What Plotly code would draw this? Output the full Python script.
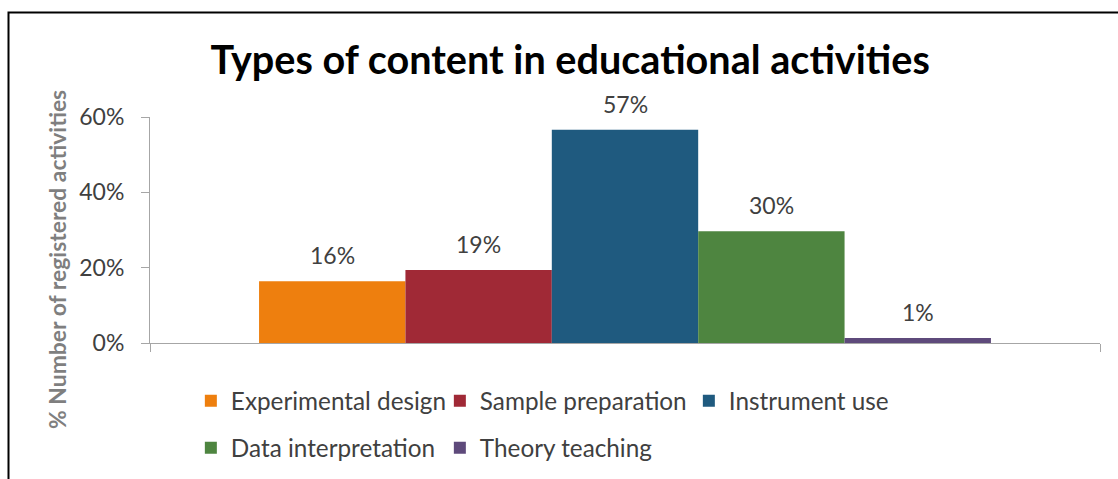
import plotly.graph_objects as go

categories = ["Experimental design", "Sample preparation", "Instrument use",
              "Data interpretation", "Theory teaching"]
values = [0.164, 0.194, 0.566, 0.297, 0.013]
colors = ["#EE7F0E", "#A02936", "#1F5A7F", "#4E8540", "#5E4A7B"]
y_ticks = [0, 0.2, 0.4, 0.6]
y_title = "% Number of registered activities"

FONT = "Lato"
fig = go.Figure()
for i, (name, v, c) in enumerate(zip(categories, values, colors)):
    fig.add_trace(go.Bar(
        x=[i], y=[v], name=name, width=1,
        marker=dict(color=c, line=dict(width=0)),
        legend="legend" if i < 3 else "legend2",
        hovertemplate="%{y:.0%}<extra>" + name + "</extra>",
    ))
    fig.add_annotation(x=i, y=v, text=f"{v:.0%}", showarrow=False,
                       yanchor="bottom", yshift=10,
                       font=dict(family=FONT, size=23, color="#404040"))

fig.add_annotation(xref="paper", yref="paper",
                   x=(57 - 150) / 950, y=(343 - 260) / 226,
                   text=f"<b>{y_title}</b>", textangle=-90, showarrow=False,
                   xanchor="center", yanchor="middle",
                   font=dict(family=FONT, size=22.9, color="#7F7F7F"))

x_range = [-1.245, 5.245]
fig.update_layout(
    width=1118, height=479,
    margin=dict(l=150, r=18, t=117, b=136, autoexpand=False),
    paper_bgcolor="white", plot_bgcolor="white",
    barmode="overlay",
    font=dict(family=FONT, size=23, color="#404040"),
    title=dict(text="<b>Types of content in educational activities</b>",
               x=0.51, xref="container", xanchor="center",
               y=0.875, yref="container", yanchor="middle",
               font=dict(family=FONT, size=39.6, color="black")),
    xaxis=dict(range=x_range, tickvals=x_range, ticks="outside", ticklen=8,
               tickcolor="#A6A6A6", showticklabels=False, showline=True,
               linecolor="#A6A6A6", linewidth=1, showgrid=False, zeroline=False,
               fixedrange=True),
    yaxis=dict(range=[0, 0.6], tickvals=y_ticks, tickformat=".0%",
               ticks="outside", ticklen=8, tickcolor="#A6A6A6",
               showline=True, linecolor="#A6A6A6", linewidth=1,
               showgrid=False, zeroline=False, ticklabelstandoff=12,
               tickfont=dict(family=FONT, size=23, color="#404040"),
               fixedrange=True),
    legend=dict(orientation="h", x=0.043, y=(343 - 401) / 226, xanchor="left",
                yanchor="middle", entrywidth=204, entrywidthmode="pixels",
                font=dict(family=FONT, size=24.3, color="#404040"),
                bgcolor="rgba(0,0,0,0)", itemclick=False),
    legend2=dict(orientation="h", x=0.043, y=(343 - 448) / 226, xanchor="left",
                 yanchor="middle", entrywidth=204, entrywidthmode="pixels",
                 font=dict(family=FONT, size=24.3, color="#404040"),
                 bgcolor="rgba(0,0,0,0)", itemclick=False),
    shapes=[dict(type="rect", xref="paper", yref="paper",
                 x0=(8.5 - 150) / 950, x1=(1130 - 150) / 950,
                 y0=(343 - 495) / 226, y1=(343 - 12.5) / 226,
                 line=dict(color="black", width=2), layer="below")],
)

fig.write_html("out.html", config={"displayModeBar": False},
               post_script="document.body.style.margin='0';"
                           "document.body.style.overflow='hidden';")
